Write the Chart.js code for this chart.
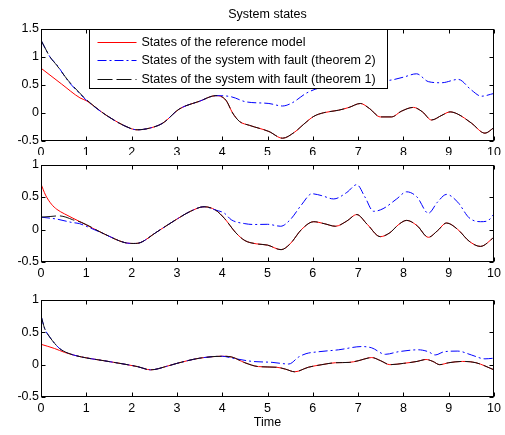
<!DOCTYPE html>
<html lang="en">
<head>
<meta charset="UTF-8" />
<title>System states</title>
<script src="https://cdn.jsdelivr.net/npm/chart.js@4.4.1/dist/chart.umd.min.js"></script>
<style>
    body { margin: 0; background: #fff; }
    #wrap { position: relative; width: 505px; height: 435px; }
    #wrap canvas { position: absolute; left: 0; }
</style>
</head>
<body>
<div id="wrap">
    <canvas id="c1" width="505" height="155" style="top:0px"></canvas>
    <canvas id="c2" width="505" height="125" style="top:155px"></canvas>
    <canvas id="c3" width="505" height="155" style="top:280px"></canvas>
</div>
<script>
const seriesNames = [
    'States of the reference model',
    'States of the system with fault (theorem 2)',
    'States of the system with fault (theorem 1)'
];

// subplot 1
const t1Ref = [0,0.45,0.86,1.0,1.44,1.96,2.12,2.4,2.69,3.05,3.5,3.86,4.08,4.23,4.38,4.6,5.03,5.33,5.6,5.8,6.02,6.24,6.57,6.8,7.05,7.25,7.49,7.74,7.95,8.22,8.42,8.62,8.85,9.03,9.2,9.5,9.8,10];
const y1Ref = [0.8,0.52,0.27,0.22,-0.04,-0.27,-0.30,-0.27,-0.18,0.07,0.21,0.31,0.23,0.0,-0.15,-0.22,-0.33,-0.45,-0.34,-0.2,-0.06,0.005,0.05,0.1,0.17,0.08,-0.07,-0.07,0.03,0.10,0.02,-0.125,-0.04,0.02,-0.02,-0.18,-0.36,-0.26];
const t1Th2 = [0,0.2,0.35,0.6,0.85,1.0,1.44,1.96,2.12,2.4,2.69,3.05,3.5,3.86,4.2,4.52,5.03,5.33,5.54,5.87,6.2,6.6,7.0,7.3,7.74,8.0,8.29,8.55,8.84,9.21,9.5,9.72,10];
const y1Th2 = [1.3,1.0,0.86,0.57,0.35,0.23,-0.04,-0.27,-0.30,-0.27,-0.18,0.07,0.21,0.31,0.29,0.20,0.17,0.125,0.18,0.36,0.46,0.5,0.58,0.56,0.59,0.64,0.70,0.56,0.54,0.60,0.41,0.30,0.35];
const t1Th1 = [0,0.2,0.35,0.6,0.85,1.0,1.44,1.96,2.12,2.4,2.69,3.05,3.5,3.86,4.08,4.23,4.38,4.6,5.03,5.33,5.6,5.8,6.02,6.24,6.57,6.8,7.05,7.25,7.49,7.74,7.95,8.22,8.42,8.62,8.85,9.03,9.2,9.5,9.8,10];
const y1Th1 = [1.3,1.0,0.85,0.58,0.36,0.24,-0.04,-0.27,-0.30,-0.27,-0.18,0.07,0.21,0.31,0.23,0.0,-0.15,-0.22,-0.33,-0.45,-0.34,-0.2,-0.06,0.005,0.05,0.1,0.17,0.08,-0.07,-0.07,0.03,0.10,0.02,-0.125,-0.04,0.02,-0.02,-0.18,-0.36,-0.26];

// subplot 2
const t2Ref = [0,0.1,0.23,0.35,0.52,0.89,1.4,1.84,2.05,2.2,2.53,3.0,3.3,3.6,3.85,4.05,4.3,4.5,4.75,5.0,5.3,5.5,5.75,6.02,6.25,6.5,6.75,6.97,7.2,7.49,7.7,7.9,8.07,8.3,8.55,8.75,8.95,9.2,9.45,9.7,10];
const y2Ref = [0.7,0.53,0.39,0.31,0.24,0.11,-0.07,-0.2,-0.215,-0.2,-0.05,0.16,0.28,0.35,0.3,0.17,-0.05,-0.17,-0.22,-0.24,-0.31,-0.22,0.0,0.12,0.09,0.05,0.13,0.23,0.08,-0.11,-0.05,0.08,0.14,0.06,-0.12,-0.02,0.1,0.0,-0.18,-0.26,-0.12];
const t2Th2 = [0,0.35,0.67,0.85,1.05,1.4,1.84,2.05,2.2,2.53,3.0,3.3,3.6,3.85,4.05,4.2,4.5,4.7,5.0,5.29,5.5,5.75,5.98,6.2,6.46,6.75,6.97,7.15,7.34,7.55,7.85,8.07,8.3,8.55,8.75,8.95,9.2,9.45,9.7,9.85,10];
const y2Th2 = [0.19,0.16,0.11,0.09,0.035,-0.07,-0.2,-0.215,-0.2,-0.05,0.16,0.28,0.35,0.3,0.25,0.15,0.09,0.077,0.08,0.05,0.15,0.38,0.55,0.52,0.47,0.57,0.69,0.5,0.28,0.32,0.47,0.58,0.5,0.25,0.42,0.54,0.42,0.18,0.12,0.13,0.24];
const t2Th1 = [0,0.2,0.4,0.55,0.7,0.89,1.4,1.84,2.05,2.2,2.53,3.0,3.3,3.6,3.85,4.05,4.3,4.5,4.75,5.0,5.3,5.5,5.75,6.02,6.25,6.5,6.75,6.97,7.2,7.49,7.7,7.9,8.07,8.3,8.55,8.75,8.95,9.2,9.45,9.7,10];
const y2Th1 = [0.19,0.2,0.21,0.19,0.15,0.11,-0.07,-0.2,-0.215,-0.2,-0.05,0.16,0.28,0.35,0.3,0.17,-0.05,-0.17,-0.22,-0.24,-0.31,-0.22,0.0,0.12,0.09,0.05,0.13,0.23,0.08,-0.11,-0.05,0.08,0.14,0.06,-0.12,-0.02,0.1,0.0,-0.18,-0.26,-0.12];

// subplot 3
const t3Ref = [0,0.3,0.52,0.89,1.4,2.13,2.42,2.8,3.0,3.5,4.0,4.2,4.5,4.8,5.2,5.4,5.6,5.9,6.2,6.5,6.8,7.0,7.3,7.5,7.7,8.0,8.3,8.5,8.65,8.8,9.0,9.3,9.6,10];
const y3Ref = [0.315,0.25,0.19,0.12,0.06,-0.03,-0.08,-0.02,0.02,0.1,0.13,0.12,0.03,-0.03,-0.04,-0.07,-0.11,-0.04,0.0,0.03,0.035,0.06,0.11,0.06,0.0,0.02,0.05,0.08,0.05,0.0,0.03,0.05,0.03,-0.08];
const t3Th2 = [0,0.08,0.19,0.3,0.41,0.59,0.89,1.4,2.13,2.42,2.8,3.0,3.5,4.0,4.23,4.67,5.1,5.47,5.69,5.85,6.13,6.57,7.08,7.3,7.6,7.89,8.33,8.55,8.7,8.9,9.2,9.5,9.8,10];
const y3Th2 = [0.76,0.56,0.43,0.33,0.25,0.18,0.12,0.06,-0.03,-0.08,-0.02,0.02,0.1,0.13,0.1,0.05,0.036,0.01,0.12,0.17,0.2,0.23,0.28,0.26,0.16,0.2,0.23,0.2,0.15,0.2,0.21,0.15,0.09,0.1];
const t3Th1 = [0,0.08,0.19,0.3,0.41,0.59,0.89,1.4,2.13,2.42,2.8,3.0,3.5,4.0,4.2,4.5,4.8,5.2,5.4,5.6,5.9,6.2,6.5,6.8,7.0,7.3,7.5,7.7,8.0,8.3,8.5,8.65,8.8,9.0,9.3,9.6,10];
const y3Th1 = [0.76,0.56,0.43,0.33,0.25,0.18,0.12,0.06,-0.03,-0.08,-0.02,0.02,0.1,0.13,0.12,0.03,-0.03,-0.04,-0.07,-0.11,-0.04,0.0,0.03,0.035,0.06,0.11,0.06,0.0,0.02,0.05,0.08,0.05,0.0,0.03,0.05,0.03,-0.08];

const FONT = 'Liberation Sans, Arial, Helvetica, sans-serif';
const FSIZE = 12.5;

function pts(xs, ys) {
    return xs.map((x, i) => ({ x: x, y: ys[i] }));
}

// matlab style box with inward ticks on all four sides
const boxTicks = {
    id: 'boxTicks',
    afterDatasetsDraw(chart) {
        const ctx = chart.ctx;
        const a = chart.chartArea;
        const L = Math.round(a.left) + 0.5, R = Math.round(a.right) - 0.5;
        const T = Math.round(a.top) + 0.5, B = Math.round(a.bottom) - 0.5;
        const len = 4;
        ctx.save();
        ctx.strokeStyle = '#000';
        ctx.lineWidth = 1;
        ctx.beginPath();
        chart.scales.x.ticks.forEach(tk => {
            const px = Math.round(chart.scales.x.getPixelForValue(tk.value)) + 0.5;
            ctx.moveTo(px, B); ctx.lineTo(px, B - len);
            ctx.moveTo(px, T); ctx.lineTo(px, T + len);
        });
        chart.scales.y.ticks.forEach(tk => {
            const py = Math.round(chart.scales.y.getPixelForValue(tk.value)) + 0.5;
            ctx.moveTo(L, py); ctx.lineTo(L + len, py);
            ctx.moveTo(R, py); ctx.lineTo(R - len, py);
        });
        ctx.stroke();
        ctx.strokeRect(L, T, R - L, B - T);
        ctx.restore();
    }
};

// legend box inside the first axes
const insideLegend = {
    id: 'insideLegend',
    afterDatasetsDraw(chart) {
        const ctx = chart.ctx;
        const a = chart.chartArea;
        const x0 = Math.round(a.left) + 48.5, y0 = Math.round(a.top) + 0.5;
        const w = 298, h = 59;
        ctx.save();
        ctx.fillStyle = '#fff';
        ctx.fillRect(x0, y0, w, h);
        ctx.strokeStyle = '#000';
        ctx.lineWidth = 1;
        ctx.strokeRect(x0, y0, w, h);
        ctx.font = FSIZE + 'px ' + FONT;
        ctx.textBaseline = 'middle';
        chart.data.datasets.forEach((ds, i) => {
            const y = Math.round(y0 + 12.5 + i * 18.3) + 0.5;
            ctx.strokeStyle = ds.borderColor;
            ctx.setLineDash(ds.borderDash || []);
            ctx.beginPath();
            ctx.moveTo(x0 + 8, y);
            ctx.lineTo(x0 + 47, y);
            ctx.stroke();
            ctx.setLineDash([]);
            ctx.fillStyle = '#000';
            ctx.fillText(ds.label, x0 + 52, y);
        });
        ctx.restore();
    }
};

function makeChart(id, sets, yMin, yMax, opts) {
    const ctx = document.getElementById(id).getContext('2d');
    const plugins = [boxTicks];
    if (opts.legend) plugins.push(insideLegend);
    const scales = {
        x: {
            type: 'linear',
            min: 0,
            max: 10,
            ticks: { stepSize: 1, color: '#000', padding: 4, maxRotation: 0,
                     font: { family: FONT, size: FSIZE } },
            grid: { display: false, drawTicks: false, tickLength: 0 },
            border: { display: false },
            title: {
                display: !!opts.xTitle,
                text: opts.xTitle || '',
                color: '#000',
                font: { family: FONT, size: FSIZE },
                padding: { top: 0, bottom: 5 }
            },
            afterFit: s => { s.height = opts.xHeight; }
        },
        y: {
            min: yMin,
            max: yMax,
            ticks: { stepSize: 0.5, color: '#000', padding: 2,
                     font: { family: FONT, size: FSIZE },
                     callback: v => String(Number(v.toFixed(2))) },
            grid: { display: false, drawTicks: false, tickLength: 0 },
            border: { display: false },
            afterFit: s => { s.width = 41; }
        }
    };
    if (opts.title) {
        // empty top axis used only to centre the title over the axes
        scales.top = {
            type: 'linear',
            position: 'top',
            min: 0,
            max: 10,
            ticks: { display: false },
            grid: { display: false, drawTicks: false, tickLength: 0 },
            border: { display: false },
            title: {
                display: true,
                text: opts.title,
                color: '#000',
                font: { family: FONT, size: FSIZE },
                padding: { top: 7.5, bottom: 0 }
            },
            afterFit: s => { s.height = 29; }
        };
    }
    return new Chart(ctx, {
        type: 'line',
        data: {
            datasets: [
                {
                    label: seriesNames[0],
                    data: pts(sets[0], sets[1]),
                    borderColor: '#ff0000',
                    borderWidth: 1,
                    order: 3
                },
                {
                    label: seriesNames[1],
                    data: pts(sets[2], sets[3]),
                    borderColor: '#0000ff',
                    borderWidth: 1,
                    borderDash: [9, 3, 2, 3],
                    order: 2
                },
                {
                    label: seriesNames[2],
                    data: pts(sets[4], sets[5]),
                    borderColor: '#111111',
                    borderWidth: 1,
                    borderDash: [15, 4],
                    order: 1
                }
            ]
        },
        options: {
            responsive: false,
            animation: false,
            events: [],
            elements: {
                point: { radius: 0 },
                line: { cubicInterpolationMode: 'monotone', fill: false }
            },
            layout: { padding: { top: opts.padTop, right: 8, left: 0, bottom: 0 } },
            plugins: {
                legend: { display: false },
                tooltip: { enabled: false }
            },
            scales: scales
        },
        plugins: plugins
    });
}

makeChart('c1', [t1Ref, y1Ref, t1Th2, y1Th2, t1Th1, y1Th1], -0.5, 1.5,
    { padTop: 0, xHeight: 14, title: 'System states', legend: true });
makeChart('c2', [t2Ref, y2Ref, t2Th2, y2Th2, t2Th1, y2Th1], -0.5, 1,
    { padTop: 9, xHeight: 18 });
makeChart('c3', [t3Ref, y3Ref, t3Th2, y3Th2, t3Th1, y3Th1], -0.5, 1,
    { padTop: 20, xHeight: 38, xTitle: 'Time' });
</script>
</body>
</html>
